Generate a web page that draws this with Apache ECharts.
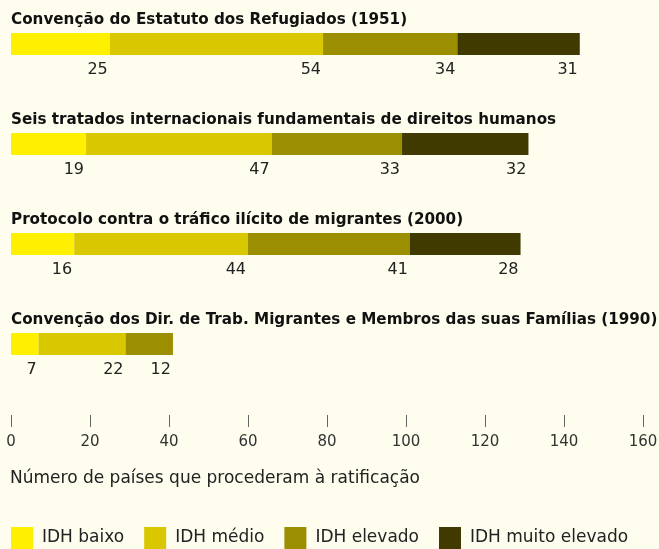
<!DOCTYPE html>
<html>
<head>
<meta charset="utf-8">
<script src="https://cdn.jsdelivr.net/npm/echarts@6/dist/echarts.min.js"></script>
<style>
  html, body { margin: 0; padding: 0; background: #FEFDEE; }
  #chart { width: 659px; height: 549px; }
</style>
</head>
<body>
<div id="chart"></div>
<script>
// Treaties (one row each) and ratification counts by HDI group
const treaties = [
  'Convenção do Estatuto dos Refugiados (1951)',
  'Seis tratados internacionais fundamentais de direitos humanos',
  'Protocolo contra o tráfico ilícito de migrantes (2000)',
  'Convenção dos Dir. de Trab. Migrantes e Membros das suas Famílias (1990)'
];
const groupNames = ['IDH baixo', 'IDH médio', 'IDH elevado', 'IDH muito elevado'];
const idhBaixo = [25, 19, 16, 7];
const idhMedio = [54, 47, 44, 22];
const idhElevado = [34, 33, 41, 12];
const idhMuitoElevado = [31, 32, 28, null];
const groupColors = ['#FFEF00', '#D9C800', '#9B8E00', '#413A00'];
const axisTitle = 'Número de países que procederam à ratificação';

const FONT = '"DejaVu Sans", "Liberation Sans", Arial, sans-serif';
const groupValues = [idhBaixo, idhMedio, idhElevado, idhMuitoElevado];

const chart = echarts.init(document.getElementById('chart'));
chart.setOption({
  backgroundColor: '#FEFDEE',
  textStyle: { fontFamily: FONT },
  animation: false,
  grid: { left: 11, right: 16, top: -6, height: 400, containLabel: false, outerBoundsMode: 'none' },
  xAxis: {
    type: 'value',
    min: 0,
    max: 160,
    interval: 20,
    position: 'bottom',
    offset: 21,
    axisLine: { show: false },
    axisTick: { show: true, length: 12, lineStyle: { color: '#666', width: 1 } },
    splitLine: { show: false },
    axisLabel: { margin: 20, fontSize: 15, color: '#333', fontFamily: FONT },
    name: axisTitle,
    nameLocation: 'start',
    nameGap: 1,
    nameTextStyle: {
      fontSize: 17, color: '#222', fontFamily: FONT,
      align: 'left', verticalAlign: 'top', padding: [55, 0, 0, 0]
    }
  },
  yAxis: {
    type: 'category',
    inverse: true,
    data: treaties,
    z: 10,
    axisLine: { show: false },
    axisTick: { show: false },
    axisLabel: {
      interval: 0,
      inside: true,
      margin: 0,
      align: 'left',
      verticalAlign: 'bottom',
      lineHeight: 48,
      fontSize: 15.2,
      fontWeight: 'bold',
      color: '#111',
      fontFamily: FONT
    }
  },
  legend: {
    left: 11,
    top: 527,
    padding: 0,
    itemWidth: 22,
    itemHeight: 22,
    itemGap: 20,
    icon: 'rect',
    data: groupNames,
    textStyle: { fontSize: 17, color: '#222', fontFamily: FONT, padding: [2, 0, 0, 4] }
  },
  series: groupNames.map((name, i) => ({
    name: name,
    type: 'bar',
    stack: 'total',
    barWidth: 22,
    data: groupValues[i],
    itemStyle: { color: groupColors[i] },
    label: {
      show: true,
      position: ['100%', '100%'],
      align: 'right',
      verticalAlign: 'top',
      offset: [-2, 7],
      fontSize: 16,
      color: '#222',
      fontFamily: FONT
    }
  }))
});
</script>
</body>
</html>
